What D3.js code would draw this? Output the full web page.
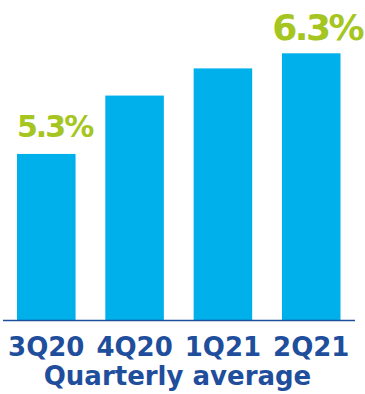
<!DOCTYPE html>
<html>
<head>
<meta charset="utf-8">
<script src="https://cdn.jsdelivr.net/npm/d3@7"></script>
<style>
  html, body { margin: 0; padding: 0; background: #fff; }
</style>
</head>
<body>
<div id="chart"></div>
<script>
// data
const quarters = ['3Q20', '4Q20', '1Q21', '2Q21'];
const values = [5.3, 5.88, 6.15, 6.3];
const valueLabels = ['5.3%', '', '', '6.3%'];
const axisTitle = 'Quarterly average';

const width = 365, height = 394;
const baseline = 320;
const font = '"DejaVu Sans", sans-serif';

const svg = d3.select('#chart')
  .append('svg')
  .attr('width', width)
  .attr('height', height)
  .attr('xmlns', 'http://www.w3.org/2000/svg');

// x: band scale for the bars
const x = d3.scaleBand()
  .domain(quarters)
  .range([17, 340.5])
  .paddingInner(0.337)
  .paddingOuter(0);

// y: truncated axis, the chart does not start at zero
const y = d3.scaleLinear()
  .domain([3.65, 6.3])
  .range([baseline, 53.3]);

svg.selectAll('rect.bar')
  .data(values)
  .join('rect')
  .attr('class', 'bar')
  .attr('x', (d, i) => x(quarters[i]))
  .attr('y', d => y(d))
  .attr('width', x.bandwidth())
  .attr('height', d => baseline - y(d))
  .attr('fill', '#00b0ea');

// baseline
svg.append('line')
  .attr('x1', 3).attr('x2', 355)
  .attr('y1', baseline + 0.5).attr('y2', baseline + 0.5)
  .attr('stroke', '#1f4e9c')
  .attr('stroke-width', 1.5);

// value labels (only first and last)
svg.append('text')
  .attr('x', x(quarters[0]))
  .attr('y', y(values[0]) - 17)
  .attr('font-family', font)
  .attr('font-weight', 'bold')
  .attr('font-size', '30px')
  .attr('fill', '#a5c520')
  .attr('letter-spacing', '-2px')
  .text(valueLabels[0]);

svg.append('text')
  .attr('x', x(quarters[3]) + x.bandwidth() / 2 + 6)
  .attr('y', y(values[3]) - 13.5)
  .attr('text-anchor', 'middle')
  .attr('font-family', font)
  .attr('font-weight', 'bold')
  .attr('font-size', '36px')
  .attr('fill', '#a5c520')
  .attr('letter-spacing', '-2.5px')
  .text(valueLabels[3]);

// category axis
const xAxis = svg.append('g')
  .attr('transform', `translate(0,${baseline})`)
  .call(d3.axisBottom(x).tickSize(0).tickPadding(0));
xAxis.select('.domain').remove();
xAxis.selectAll('text')
  .attr('dy', null)
  .attr('y', 36)
  .attr('font-family', font)
  .attr('font-weight', 'bold')
  .attr('font-size', '26px')
  .attr('fill', '#1f4e9c');

// axis title
svg.append('text')
  .attr('x', 177.5)
  .attr('y', 385)
  .attr('text-anchor', 'middle')
  .attr('font-family', font)
  .attr('font-weight', 'bold')
  .attr('font-size', '26px')
  .attr('fill', '#1f4e9c')
  .text(axisTitle);
</script>
</body>
</html>
